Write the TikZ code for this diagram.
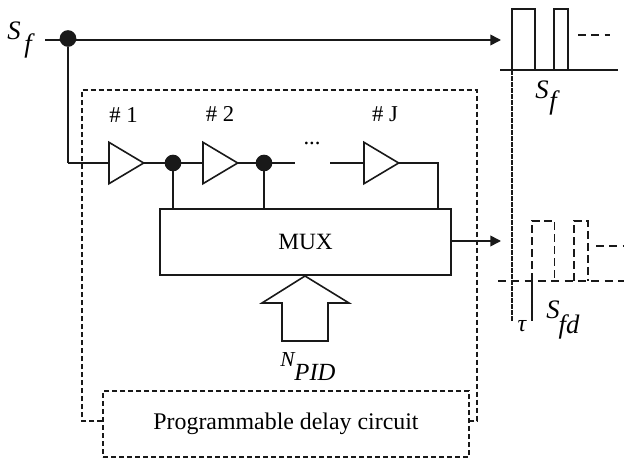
\documentclass[tikz,border=0pt]{standalone}
\usepackage{fontspec}
\setmainfont{Liberation Serif}
\usetikzlibrary{shapes.geometric,arrows.meta,calc}
\tikzset{
  wire/.style={line width=1.2pt,draw=black!90},
  arrowed/.style={wire,-{Triangle[length=8pt,width=8pt]}},
  dot/.style={circle,fill=black!90,inner sep=0pt,outer sep=0pt,minimum size=12.5pt},
  buffer/.style={isosceles triangle,isosceles triangle stretches,draw=black!90,line width=1.2pt,inner sep=0pt,outer sep=0pt,minimum width=31pt,minimum height=26pt,anchor=west},
  box/.style={rectangle,draw=black!90,line width=1.3pt,inner sep=0pt},
  outer/.style={line width=1.1pt,draw=black!90,dash pattern=on 4pt off 2pt},
  fine/.style={line width=1.1pt,draw=black!90,dash pattern=on 3.5pt off 1pt},
  pulse/.style={line width=1.1pt,draw=black!90,dash pattern=on 6pt off 4pt},
  lbl/.style={inner sep=0pt,font=\fontsize{17}{19}\selectfont},
  big/.style={inner sep=0pt,font=\fontsize{20}{21}\itshape\selectfont},
}
\begin{document}
\begin{tikzpicture}[x=0.75pt,y=-0.75pt]
\useasboundingbox (0,0) rectangle (624,459);
% signal input
\coordinate (in) at (45,40);
\node[dot] (d0) at (68,38.5) {};
\coordinate (t1) at (501,40);
\coordinate (corner) at (68,163);
\draw[wire] (in) -- (68,40);
\draw[arrowed] (68,40) -- (t1);
\draw[wire] (d0) -- (corner);
% delay chain
\node[buffer] (b1) at (109,163) {};
\node[buffer] (b2) at (203,163) {};
\node[buffer] (b3) at (364,163) {};
\node[dot] (d1) at (173,163) {};
\node[dot] (d2) at (264,163) {};
\coordinate (c1) at (295,163);
\coordinate (c2) at (330,163);
\node[lbl] (dots) at (312,143) {...};
\draw[wire] (corner) -- (b1.west);
\draw[wire] (b1.east) -- (d1) -- (b2.west);
\draw[wire] (b2.east) -- (d2) -- (c1);
\draw[wire] (c2) -- (b3.west);
\node[lbl] (n1) at (123.5,115) {\# 1};
\node[lbl] (n2) at (220,114) {\# 2};
\node[lbl] (nJ) at (385,114) {\# J};
% MUX
\node[box,minimum width=218pt,minimum height=49.5pt,font=\fontsize{17.5}{19}\selectfont] (mux) at (305.5,242) {MUX};
\draw[wire] (d1) -- (d1 |- mux.north);
\draw[wire] (d2) -- (d2 |- mux.north);
\coordinate (b3o) at (438,163);
\draw[wire] (b3.east) -- (b3o) -- (b3o |- mux.north);
\coordinate (t2) at (501,241);
\draw[arrowed] (mux.east |- t2) -- (t2);
% select arrow
\draw[wire,line join=miter] (305,276) -- (262,303) -- (282,303) -- (282,341) -- (328,341) -- (328,303) -- (349,303) -- cycle;
\node[inner sep=0pt,font=\fontsize{16}{18}\itshape\selectfont] (npid1) at (287.5,360) {N};
\node[inner sep=0pt,font=\fontsize{18.5}{20}\itshape\selectfont] (npid2) at (315,372) {PID};
% delay block
\node[box,outer,minimum width=274.5pt,minimum height=49.5pt,line width=1.1pt,font=\fontsize{17.9}{20}\selectfont] (pdc) at (286,424) {Programmable delay circuit};
\draw[outer] (pdc.west |- 0,421) -- (82,421) -- (82,90) -- (477,90) -- (477,421) -- (pdc.east |- 0,421);
% upper waveform
\coordinate (w0) at (500,70);
\coordinate (w1) at (618,70);
\draw[wire] (w0) -- (w1);
\draw[wire] (512,70) -- (512,9) -- (535,9) -- (535,70);
\draw[wire] (554,70) -- (554,9) -- (568,9) -- (568,70);
\draw[pulse] (578,35) -- (610,35);
\node[big] (s1) at (542,90) {S};
\node[big] (s2) at (553,103) {f};
% lower waveform
\coordinate (v0) at (498,281);
\coordinate (v1) at (624,281);
\draw[pulse] (v0) -- (v1);
\draw[pulse,dash pattern=on 6pt off 3pt] (532,281) -- (532,221) -- (554.5,221) -- (554.5,281);
\draw[pulse,dash pattern=on 6pt off 3pt] (574,281) -- (574,221) -- (588,221) -- (588,281);
\draw[pulse] (596,246) -- (624,246);
\draw[fine] (512,70) -- (512,321);
\draw[wire] (532,281) -- (532,321);
\node[inner sep=0pt,font=\fontsize{18}{19}\itshape\selectfont] (tau) at (522,326) {τ};
\node[big] (s3) at (553,310) {S};
\node[big] (s4) at (569,327) {fd};
% input label
\node[big] (s5) at (14,31) {S};
\node[big] (s6) at (28,46) {f};
\end{tikzpicture}
\end{document}
